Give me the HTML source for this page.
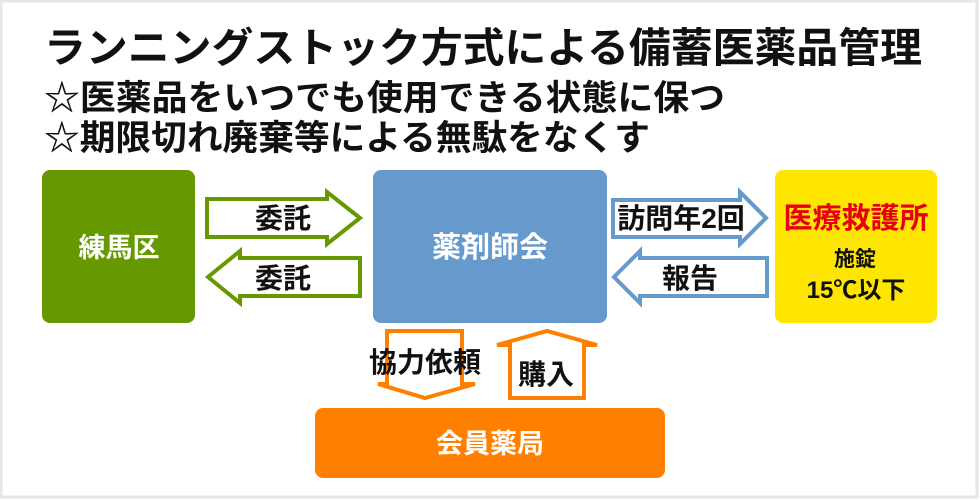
<!DOCTYPE html>
<html><head><meta charset="utf-8"><style>
body{margin:0;background:#fff}
svg{display:block}
text{font-family:"Liberation Sans","Noto Sans CJK JP",sans-serif}
</style></head><body>
<svg width="980" height="500" viewBox="0 0 980 500">
<rect x="1" y="1" width="976" height="496" fill="#fff" stroke="#e6e6e6" stroke-width="3"/>
<g font-weight="bold" fill="#111">
<text x="44" y="62" font-size="41" textLength="878" lengthAdjust="spacingAndGlyphs">ランニングストック方式による備蓄医薬品管理</text>
<text x="44" y="110" font-size="35" textLength="681" lengthAdjust="spacingAndGlyphs">☆医薬品をいつでも使用できる状態に保つ</text>
<text x="44" y="150" font-size="35" textLength="606" lengthAdjust="spacingAndGlyphs">☆期限切れ廃棄等による無駄をなくす</text>
</g>
<rect x="42" y="170" width="153" height="153" rx="8" fill="#669900"/>
<text x="119" y="257" font-size="27" font-weight="bold" fill="#fff" text-anchor="middle">練馬区</text>
<rect x="373" y="170" width="234" height="153" rx="8" fill="#6699cc"/>
<text x="490" y="257" font-size="29" font-weight="bold" fill="#fff" text-anchor="middle">薬剤師会</text>
<rect x="775" y="170" width="162" height="153" rx="8" fill="#ffe600"/>
<text x="856" y="228" font-size="29" font-weight="bold" fill="#e60012" text-anchor="middle">医療救護所</text>
<text x="855" y="266" font-size="21" font-weight="bold" fill="#111" text-anchor="middle">施錠</text>
<text x="856" y="298" font-size="24" font-weight="bold" fill="#111" text-anchor="middle">15℃以下</text>
<rect x="315" y="408" width="350" height="70" rx="8" fill="#ff8000"/>
<text x="490" y="453" font-size="27" font-weight="bold" fill="#fff" text-anchor="middle">会員薬局</text>
<g fill="#fff" stroke-width="4" stroke-linejoin="miter">
<polygon stroke="#669900" points="207,199 327,199 327,192 360,218 327,244 327,237 207,237"/>
<polygon stroke="#669900" points="360,258 240,258 240,251 208,277 240,303 240,296 360,296"/>
<polygon stroke="#6699cc" points="613,200 740,200 740,192 766,218 740,244 740,237 613,237"/>
<polygon stroke="#6699cc" points="767,258 640,258 640,251 614,277 640,303 640,296 767,296"/>
<polygon stroke="#ff8000" points="387,331 462,331 462,384 475,384 425,398 378,384 387,384"/>
<polygon stroke="#ff8000" points="510,398 584,398 584,345 597,345 547,331 497,345 510,345"/>
</g>
<g font-size="28" font-weight="bold" fill="#111" text-anchor="middle">
<text x="283" y="228">委託</text>
<text x="283" y="288">委託</text>
<text x="681" y="228">訪問年2回</text>
<text x="690" y="288">報告</text>
<text x="425" y="372">協力依頼</text>
<text x="546" y="384">購入</text>
</g>
</svg>
</body></html>
